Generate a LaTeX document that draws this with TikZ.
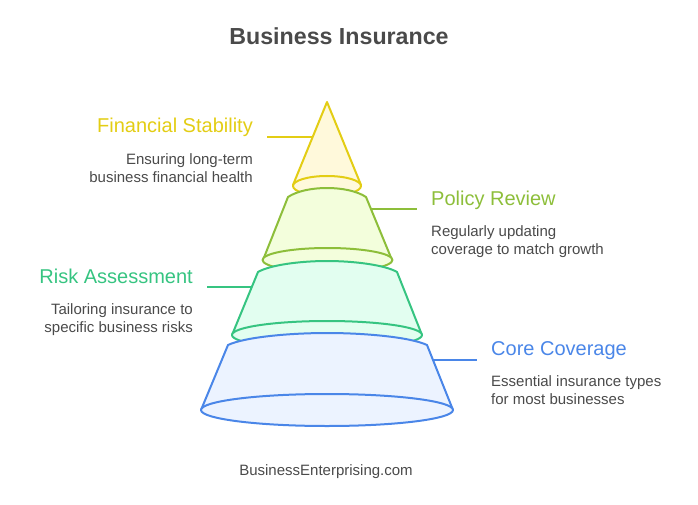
\documentclass[tikz,border=0pt]{standalone}
\usepackage{fontspec}
\setmainfont{Liberation Sans}
\usepackage{tikz}
\usetikzlibrary{calc,positioning}
\definecolor{inkgray}{HTML}{4A4A4A}
\definecolor{yellowline}{HTML}{E3CD14}
\definecolor{yellowfill}{HTML}{FFF9DB}
\definecolor{oliveline}{HTML}{8DBE3A}
\definecolor{olivefill}{HTML}{F3FEDC}
\definecolor{tealline}{HTML}{36C481}
\definecolor{tealfill}{HTML}{E2FEF0}
\definecolor{blueline}{HTML}{4A86E8}
\definecolor{bluefill}{HTML}{ECF3FF}
\begin{document}
\begin{tikzpicture}[x=1pt,y=-1pt,
    tier/.style={line width=2pt,line join=round},
    lead/.style={line width=2pt},
    head/.style={font=\fontsize{20}{22}\selectfont,inner sep=0pt},
    note/.style={font=\fontsize{15}{18}\selectfont,text=inkgray,inner sep=0pt}]
              \useasboundingbox (0,0) rectangle (698,505);
              \node[font=\fontsize{23.2}{28}\selectfont\bfseries,text=inkgray,inner sep=0pt] (title) at (339,36) {Business Insurance};

              % top cone
              \draw[tier,draw=yellowline,fill=yellowfill] (293,185) -- (327,102) -- (361,185) -- cycle;
              \draw[tier,draw=yellowline,fill=yellowfill] (327,186) ellipse [x radius=34,y radius=10];

              % second tier
              \draw[tier,draw=oliveline,fill=olivefill] (263,260) -- (288,197) .. controls (297,191) and (312,188) .. (327,188) .. controls (342,188) and (357,191) .. (366,197) -- (392,260) -- cycle;
              \draw[tier,draw=oliveline,fill=olivefill] (327.5,260) ellipse [x radius=65,y radius=12];

              % third tier
              \draw[tier,draw=tealline,fill=tealfill] (232,335) -- (258,272) .. controls (270,265) and (300,261) .. (327,261) .. controls (354,261) and (385,265) .. (397,272) -- (422,335) -- cycle;
              \draw[tier,draw=tealline,fill=tealfill] (327,335) ellipse [x radius=95,y radius=14];

              % base
              \draw[tier,draw=blueline,fill=bluefill] (201,410) -- (228,345) .. controls (245,337) and (290,333) .. (327,333) .. controls (364,333) and (410,337) .. (427,345) -- (453,410) -- cycle;
              \draw[tier,draw=blueline,fill=bluefill] (327,410) ellipse [x radius=126,y radius=16];

              \node[head,text=yellowline,anchor=base east] (stab) at (253,133) {Financial Stability};
              \node[note,anchor=north east,align=right] (stabnote) at (253,153) {Ensuring long-term\\business financial health};
              \node[head,text=oliveline,anchor=base west] (policy) at (431,205) {Policy Review};
              \node[note,anchor=north west,align=left] (policynote) at (431,225) {Regularly updating\\coverage to match growth};
              \node[head,text=tealline,anchor=base east] (risk) at (193,283) {Risk Assessment};
              \node[note,anchor=north east,align=right] (risknote) at (193,303) {Tailoring insurance to\\specific business risks};
              \node[head,text=blueline,anchor=base west] (core) at (491,355) {Core Coverage};
              \node[note,anchor=north west,align=left] (corenote) at (491,375) {Essential insurance types\\for most businesses};
              \node[note] (site) at (326,472) {BusinessEnterprising.com};

              \coordinate (y1) at (267,137);
              \coordinate (y2) at (312,137);
              \coordinate (o1) at (371,209);
              \coordinate (o2) at (417,209);
              \coordinate (t1) at (207,287);
              \coordinate (t2) at (251,287);
              \coordinate (b1) at (433,360);
              \coordinate (b2) at (477,360);
              \draw[lead,draw=yellowline] (y1) -- (y2);
              \draw[lead,draw=oliveline] (o1) -- (o2);
              \draw[lead,draw=tealline] (t1) -- (t2);
              \draw[lead,draw=blueline] (b1) -- (b2);
            \end{tikzpicture}
\end{document}
